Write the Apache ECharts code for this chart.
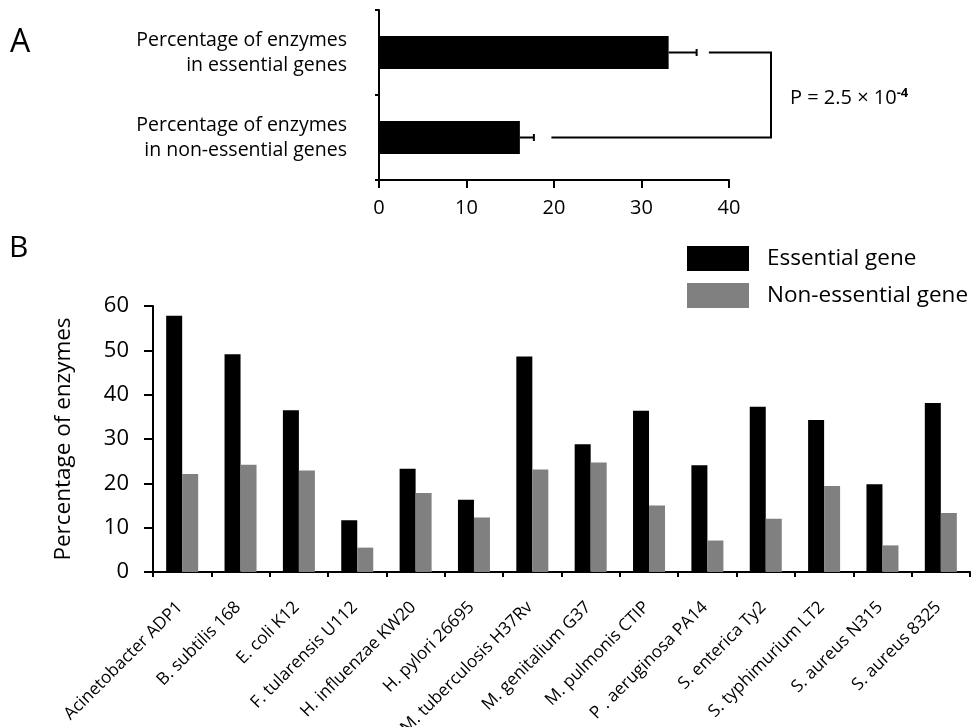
<!DOCTYPE html>
<html>
<head>
<meta charset="utf-8">
<script src="https://cdn.jsdelivr.net/npm/echarts@6/dist/echarts.min.js"></script>
<style>html,body{margin:0;padding:0;background:#fff}#c{width:973px;height:727px}</style>
</head>
<body>
<div id="c"></div>
<script>
// Panel A data
const aCategories = ['Percentage of enzymes\nin essential genes', 'Percentage of enzymes\nin non-essential genes'];
const aValues = [33.1, 16.1];
const aErrorTop = [36.3, 17.7];
const aTicks = [0, 10, 20, 30, 40];
// significance bracket (x-values where the bracket arms start, and the x of its spine)
const bracketStart = [37.7, 19.7];
const bracketSpine = 44.8;
const pText = 'P = 2.5 × 10';
const pExp = '-4';

// Panel B data
const bCategories = ['Acinetobacter ADP1', 'B. subtilis 168', 'E. coli K12', 'F. tularensis U112', 'H. influenzae KW20', 'H. pylori 26695', 'M. tuberculosis H37Rv', 'M. genitalium G37', 'M. pulmonis CTIP', 'P . aeruginosa PA14', 'S. enterica Ty2', 'S. typhimurium LT2', 'S. aureus N315', 'S. aureus 8325'];
const essential = [57.8, 49.1, 36.5, 11.7, 23.3, 16.3, 48.6, 28.8, 36.4, 24.1, 37.3, 34.3, 19.8, 38.1];
const nonEssential = [22.1, 24.2, 22.9, 5.5, 17.8, 12.3, 23.1, 24.7, 15.0, 7.1, 12.0, 19.4, 6.0, 13.3];
const bTicks = [0, 10, 20, 30, 40, 50, 60];

const FONT = 'Open Sans';
const chart = echarts.init(document.getElementById('c'));

const errData = aValues.map((v, i) => [v, i, aErrorTop[i]]);
const bracketData = bracketStart.map((s, i) => [s, i, bracketSpine]);

chart.setOption({
  animation: false,
  textStyle: { fontFamily: FONT, color: '#000' },
  grid: [
    { left: 379, top: 10, width: 350, height: 170, containLabel: false, outerBoundsMode: 'none' },
    { left: 153, top: 306, width: 817, height: 266, containLabel: false, outerBoundsMode: 'none' }
  ],
  legend: {
    orient: 'vertical', left: 687, top: 246, padding: 0,
    itemWidth: 62, itemHeight: 25, itemGap: 12,
    icon: 'rect',
    textStyle: { fontFamily: FONT, fontSize: 22.5, color: '#000', padding: [0, 0, 0, 13] },
    data: ['Essential gene', 'Non-essential gene']
  },
  xAxis: [
    {
      gridIndex: 0, type: 'value', min: aTicks[0], max: aTicks[aTicks.length - 1], interval: 10,
      axisLine: { show: true, lineStyle: { color: '#000', width: 2 } },
      axisTick: { show: true, length: 8, lineStyle: { color: '#000', width: 2 } },
      axisLabel: { fontSize: 20, color: '#000', margin: 18, fontFamily: FONT },
      splitLine: { show: false }
    },
    {
      gridIndex: 1, type: 'category', data: bCategories,
      axisLine: { show: true, lineStyle: { color: '#000', width: 2 } },
      axisTick: { show: true, length: 5, lineStyle: { color: '#000', width: 2 } },
      axisLabel: { fontSize: 17.2, color: '#000', rotate: 45, margin: 18, interval: 0, align: 'right', verticalAlign: 'top', padding: [0, 12, 0, 0], fontFamily: FONT }
    }
  ],
  yAxis: [
    {
      gridIndex: 0, type: 'category', data: aCategories, inverse: true,
      axisLine: { show: true, lineStyle: { color: '#000', width: 2 } },
      axisTick: { show: true, length: 4, lineStyle: { color: '#000', width: 2 } },
      axisLabel: { fontSize: 19.5, color: '#000', margin: 32, lineHeight: 25, align: 'right', fontFamily: FONT }
    },
    {
      gridIndex: 1, type: 'value', min: bTicks[0], max: bTicks[bTicks.length - 1], interval: 10,
      name: 'Percentage of enzymes', nameLocation: 'middle', nameGap: 78,
      nameTextStyle: { fontSize: 22.5, color: '#000', fontFamily: FONT },
      axisLine: { show: true, lineStyle: { color: '#000', width: 2 } },
      axisTick: { show: true, length: 9, lineStyle: { color: '#000', width: 2 } },
      axisLabel: { fontSize: 22, color: '#000', margin: 24, fontFamily: FONT },
      splitLine: { show: false }
    }
  ],
  series: [
    {
      type: 'bar', xAxisIndex: 0, yAxisIndex: 0, data: aValues, barWidth: 33,
      itemStyle: { color: '#000' }
    },
    {
      type: 'custom', xAxisIndex: 0, yAxisIndex: 0, data: errData,
      encode: { x: [0, 2], y: 1 }, z: 3,
      renderItem: function (params, api) {
        const c = api.value(1);
        const p0 = api.coord([api.value(0), c]);
        const p1 = api.coord([api.value(2), c]);
        return {
          type: 'group', children: [
            { type: 'line', shape: { x1: p0[0], y1: p0[1], x2: p1[0], y2: p1[1] }, style: { stroke: '#000', lineWidth: 2 } },
            { type: 'line', shape: { x1: p1[0], y1: p1[1] - 3.5, x2: p1[0], y2: p1[1] + 3.5 }, style: { stroke: '#000', lineWidth: 2 } }
          ]
        };
      }
    },
    {
      type: 'custom', xAxisIndex: 0, yAxisIndex: 0, data: bracketData, clip: false,
      encode: { x: [0, 2], y: 1 }, z: 3,
      renderItem: function (params, api) {
        if (params.dataIndex !== 0) return null;
        const pts = [
          api.coord([bracketData[0][0], 0]),
          api.coord([bracketData[0][2], 0]),
          api.coord([bracketData[1][2], 1]),
          api.coord([bracketData[1][0], 1])
        ];
        return { type: 'polyline', shape: { points: pts }, style: { stroke: '#000', lineWidth: 2, fill: null } };
      }
    },
    {
      name: 'Essential gene', type: 'bar', xAxisIndex: 1, yAxisIndex: 1, data: essential,
      barWidth: 16, barGap: '0%', itemStyle: { color: '#000' }
    },
    {
      name: 'Non-essential gene', type: 'bar', xAxisIndex: 1, yAxisIndex: 1, data: nonEssential,
      barWidth: 16, barGap: '0%', itemStyle: { color: '#808080' }
    }
  ],
  graphic: [
    { type: 'text', left: 10, top: 27, style: { text: 'A', fontSize: 32, fontFamily: FONT, fill: '#000' } },
    { type: 'text', left: 9, top: 233, style: { text: 'B', fontSize: 30, fontFamily: FONT, fill: '#000' } },
    {
      type: 'text', left: 790, top: 87,
      style: {
        text: '{a|' + pText + '}{b|' + pExp + '}',
        fontFamily: FONT, fill: '#000',
        rich: {
          a: { fontSize: 20, fontFamily: FONT, fill: '#000', color: '#000' },
          b: { fontSize: 13, fontWeight: 'bold', fontFamily: FONT, fill: '#000', color: '#000', verticalAlign: 'top', padding: [0, 0, 10, 0] }
        }
      }
    }
  ]
});
</script>
</body>
</html>
